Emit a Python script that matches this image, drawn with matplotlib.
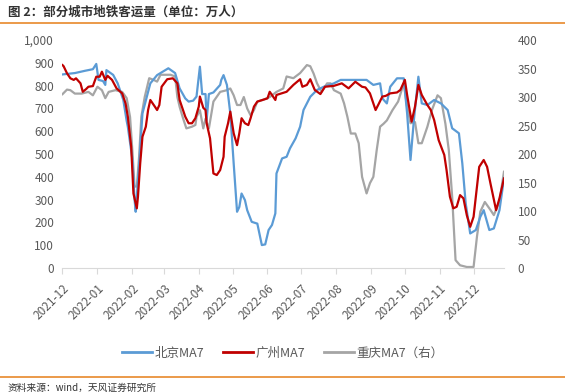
import pandas as pd
import matplotlib
matplotlib.use("Agg")
import matplotlib.pyplot as plt
from matplotlib.lines import Line2D
from matplotlib.ticker import FuncFormatter, MultipleLocator

plt.rcParams["font.family"] = ["Noto Sans CJK SC", "DejaVu Sans"]

# 北京MA7 (左轴, 万人)
bj_dates = ["2021-12-01", "2021-12-12", "2021-12-21", "2021-12-28", "2021-12-31",
            "2022-01-02", "2022-01-06", "2022-01-08", "2022-01-09", "2022-01-15",
            "2022-01-19", "2022-01-24", "2022-01-27", "2022-01-28", "2022-02-01",
            "2022-02-03", "2022-02-04", "2022-02-07", "2022-02-10", "2022-02-17",
            "2022-02-23", "2022-03-05", "2022-03-11", "2022-03-15", "2022-03-20",
            "2022-03-23", "2022-03-27", "2022-03-30", "2022-04-02", "2022-04-04",
            "2022-04-07", "2022-04-08", "2022-04-10", "2022-04-14", "2022-04-20",
            "2022-04-21", "2022-04-23", "2022-04-26", "2022-04-29", "2022-05-02",
            "2022-05-05", "2022-05-07", "2022-05-09", "2022-05-12", "2022-05-14",
            "2022-05-18", "2022-05-23", "2022-05-27", "2022-05-30", "2022-06-02",
            "2022-06-05", "2022-06-08", "2022-06-09", "2022-06-14", "2022-06-18",
            "2022-06-21", "2022-06-26", "2022-06-30", "2022-07-03", "2022-07-09",
            "2022-07-15", "2022-07-21", "2022-07-30", "2022-08-05", "2022-08-16",
            "2022-08-28", "2022-09-03", "2022-09-09", "2022-09-11", "2022-09-15",
            "2022-09-18", "2022-09-24", "2022-09-30", "2022-10-03", "2022-10-06",
            "2022-10-09", "2022-10-13", "2022-10-16", "2022-10-21", "2022-10-27",
            "2022-11-02", "2022-11-08", "2022-11-12", "2022-11-18", "2022-11-21",
            "2022-11-24", "2022-11-28", "2022-12-03", "2022-12-07", "2022-12-10",
            "2022-12-15", "2022-12-19", "2022-12-24", "2022-12-28"]
bj_vals = [849, 855, 865, 872, 895,
           825, 820, 803, 868, 847,
           810, 737, 645, 620, 480,
           300, 247, 450, 678, 810,
           846, 876, 855, 788, 744,
           730, 734, 752, 883, 763,
           763, 649, 763, 770, 803,
           825, 846, 803, 678, 459,
           247, 268, 327, 298, 254,
           203, 195, 101, 104, 167,
           189, 240, 415, 481, 488,
           525, 569, 620, 693, 751,
           781, 795, 810, 825, 825,
           825, 803, 810, 744, 722,
           795, 832, 832, 678, 474,
           649, 839, 722, 715, 737,
           722, 693, 613, 591, 459,
           284, 152, 167, 225, 254,
           167, 174, 254, 393]

# 广州MA7 (左轴, 万人)
gz_dates = ["2021-12-01", "2021-12-02", "2021-12-05", "2021-12-08", "2021-12-11",
            "2021-12-13", "2021-12-17", "2021-12-19", "2021-12-22", "2021-12-24",
            "2021-12-28", "2021-12-31", "2022-01-03", "2022-01-05", "2022-01-08",
            "2022-01-10", "2022-01-14", "2022-01-18", "2022-01-23", "2022-01-26",
            "2022-01-28", "2022-01-31", "2022-02-02", "2022-02-05", "2022-02-06",
            "2022-02-08", "2022-02-10", "2022-02-13", "2022-02-15", "2022-02-17",
            "2022-02-21", "2022-02-23", "2022-02-25", "2022-02-27", "2022-03-04",
            "2022-03-09", "2022-03-13", "2022-03-15", "2022-03-20", "2022-03-23",
            "2022-03-26", "2022-03-29", "2022-04-01", "2022-04-02", "2022-04-05",
            "2022-04-07", "2022-04-08", "2022-04-11", "2022-04-14", "2022-04-17",
            "2022-04-20", "2022-04-23", "2022-04-24", "2022-04-27", "2022-04-29",
            "2022-05-02", "2022-05-05", "2022-05-07", "2022-05-09", "2022-05-12",
            "2022-05-15", "2022-05-17", "2022-05-20", "2022-05-23", "2022-06-01",
            "2022-06-03", "2022-06-05", "2022-06-08", "2022-06-09", "2022-06-18",
            "2022-06-24", "2022-06-30", "2022-07-02", "2022-07-06", "2022-07-09",
            "2022-07-13", "2022-07-18", "2022-07-22", "2022-07-30", "2022-08-06",
            "2022-08-12", "2022-08-18", "2022-08-24", "2022-08-27", "2022-08-31",
            "2022-09-05", "2022-09-08", "2022-09-11", "2022-09-14", "2022-09-18",
            "2022-09-24", "2022-09-27", "2022-10-01", "2022-10-03", "2022-10-07",
            "2022-10-10", "2022-10-13", "2022-10-16", "2022-10-21", "2022-10-24",
            "2022-10-27", "2022-10-31", "2022-11-05", "2022-11-07", "2022-11-10",
            "2022-11-13", "2022-11-16", "2022-11-19", "2022-11-22", "2022-11-25",
            "2022-11-28", "2022-12-01", "2022-12-06", "2022-12-10", "2022-12-13",
            "2022-12-16", "2022-12-21", "2022-12-24", "2022-12-28"]
gz_vals = [890, 885, 854, 832, 825,
           832, 810, 773, 785, 795,
           798, 839, 839, 861, 825,
           843, 825, 788, 766, 722,
           664, 532, 327, 262, 313,
           459, 576, 620, 693, 737,
           708, 693, 715, 795, 828,
           832, 810, 737, 664, 635,
           635, 657, 708, 752, 703,
           693, 635, 569, 415, 408,
           430, 488, 576, 635, 686,
           591, 539, 591, 657, 635,
           627, 657, 708, 730, 744,
           773, 759, 737, 759, 773,
           803, 828, 795, 803, 828,
           781, 763, 795, 799, 810,
           788, 817, 795, 792, 766,
           693, 722, 752, 755, 766,
           770, 781, 825, 759, 642,
           708, 803, 759, 715, 693,
           649, 561, 496, 430, 313,
           262, 269, 320, 306, 232,
           181, 225, 444, 474, 444,
           371, 254, 306, 393]

# 重庆MA7 (右轴, 万人)
cq_dates = ["2021-12-01", "2021-12-05", "2021-12-08", "2021-12-12", "2021-12-18",
            "2021-12-24", "2021-12-28", "2022-01-01", "2022-01-05", "2022-01-08",
            "2022-01-11", "2022-01-17", "2022-01-23", "2022-01-27", "2022-01-30",
            "2022-02-01", "2022-02-03", "2022-02-05", "2022-02-07", "2022-02-09",
            "2022-02-12", "2022-02-16", "2022-02-20", "2022-02-23", "2022-02-26",
            "2022-03-07", "2022-03-11", "2022-03-13", "2022-03-15", "2022-03-18",
            "2022-03-21", "2022-03-26", "2022-03-29", "2022-03-30", "2022-04-02",
            "2022-04-05", "2022-04-07", "2022-04-10", "2022-04-14", "2022-04-20",
            "2022-04-26", "2022-04-29", "2022-05-02", "2022-05-05", "2022-05-08",
            "2022-05-11", "2022-05-14", "2022-05-17", "2022-05-20", "2022-05-23",
            "2022-05-28", "2022-06-03", "2022-06-09", "2022-06-15", "2022-06-18",
            "2022-06-24", "2022-06-30", "2022-07-06", "2022-07-09", "2022-07-12",
            "2022-07-15", "2022-07-19", "2022-07-24", "2022-07-27", "2022-07-30",
            "2022-08-05", "2022-08-08", "2022-08-11", "2022-08-14", "2022-08-18",
            "2022-08-21", "2022-08-24", "2022-08-28", "2022-08-31", "2022-09-03",
            "2022-09-06", "2022-09-09", "2022-09-12", "2022-09-15", "2022-09-20",
            "2022-09-25", "2022-09-30", "2022-10-03", "2022-10-06", "2022-10-10",
            "2022-10-13", "2022-10-16", "2022-10-21", "2022-10-25", "2022-10-30",
            "2022-11-02", "2022-11-06", "2022-11-09", "2022-11-12", "2022-11-15",
            "2022-11-19", "2022-11-25", "2022-12-01", "2022-12-04", "2022-12-07",
            "2022-12-11", "2022-12-16", "2022-12-19", "2022-12-24", "2022-12-28"]
cq_vals = [305, 313, 312, 306, 306,
           309, 303, 318, 312, 298,
           309, 312, 309, 298, 265,
           207, 143, 143, 195, 265,
           300, 333, 330, 327, 339,
           339, 336, 300, 283, 263,
           245, 248, 251, 265, 277,
           245, 262, 245, 292, 309,
           312, 315, 303, 286, 286,
           300, 280, 268, 277, 292,
           295, 300, 309, 315, 336,
           333, 342, 356, 354, 341,
           324, 309, 324, 324, 312,
           306, 289, 265, 236, 236,
           219, 160, 131, 149, 160,
           207, 248, 253, 259, 277,
           292, 324, 283, 254, 256,
           219, 219, 248, 277, 303,
           298, 253, 207, 125, 14,
           5, 2, 2, 55, 99,
           116, 102, 93, 117, 169]

series_names = ["北京MA7", "广州MA7", "重庆MA7（右）"]
series_colors = ["#5B9BD5", "#C00000", "#A5A5A5"]
month_labels = ["2021-12", "2022-01", "2022-02", "2022-03", "2022-04", "2022-05", "2022-06",
                "2022-07", "2022-08", "2022-09", "2022-10", "2022-11", "2022-12"]

bj = pd.Series(bj_vals, index=pd.to_datetime(bj_dates))
gz = pd.Series(gz_vals, index=pd.to_datetime(gz_dates))
cq = pd.Series(cq_vals, index=pd.to_datetime(cq_dates))

text_gray = "#595959"
fig = plt.figure(figsize=(5.65, 3.92), dpi=100)
ax = fig.add_axes([0.1106, 0.316, 0.7814, 0.582])
ax2 = ax.twinx()

# 重庆 first so it sits under the other two
ax2.plot(cq.index, cq.values, color=series_colors[2], lw=1.6, zorder=1)
ax.plot(bj.index, bj.values, color=series_colors[0], lw=1.6, zorder=2)
ax.plot(gz.index, gz.values, color=series_colors[1], lw=1.6, zorder=3)
ax.set_zorder(ax2.get_zorder() + 1)
ax.patch.set_visible(False)

ax.set_ylim(0, 1000)
ax2.set_ylim(0, 400)
ax.yaxis.set_major_locator(MultipleLocator(100))
ax2.yaxis.set_major_locator(MultipleLocator(50))
ax.yaxis.set_major_formatter(FuncFormatter(lambda v, p: f"{int(v):,}"))

ax.set_xlim(bj.index[0], bj.index[-1])
ax.set_xticks(pd.to_datetime([m + "-01" for m in month_labels]))
ax.set_xticklabels(month_labels, rotation=45, ha="right", rotation_mode="anchor")

for a in (ax, ax2):
    for s in a.spines.values():
        s.set_visible(False)
    a.tick_params(axis="y", length=0, labelsize=8.5, colors=text_gray, pad=6)
ax.spines["bottom"].set_visible(True)
ax.spines["bottom"].set_color("#D9D9D9")
ax.tick_params(axis="x", length=4, color="#D9D9D9", labelsize=8.5,
               labelcolor=text_gray, pad=6)
ax2.tick_params(axis="y", pad=10)

handles = [Line2D([], [], color=c, lw=2) for c in series_colors]
fig.legend(handles, series_names, loc="center", bbox_to_anchor=(0.5, 1 - 353 / 392),
           ncol=3, frameon=False, fontsize=9, labelcolor=text_gray,
           handlelength=2.4, handletextpad=0.2, columnspacing=1.5)

fig.text(0.014, 1 - 12 / 392, "图 2：部分城市地铁客运量（单位：万人）", fontsize=9,
         fontweight="bold", color="#333333", va="center", ha="left")
fig.add_artist(Line2D([0, 1], [1 - 23 / 392] * 2, transform=fig.transFigure,
                      color="#E8892B", lw=1.2))
fig.add_artist(Line2D([0, 1], [1 - 377 / 392] * 2, transform=fig.transFigure,
                      color="#E8892B", lw=1.2))
fig.text(0.014, 1 - 388 / 392, "资料来源：wind，天风证券研究所", fontsize=7,
         color="#333333", va="center", ha="left")

fig.savefig("out.png", dpi=100)
